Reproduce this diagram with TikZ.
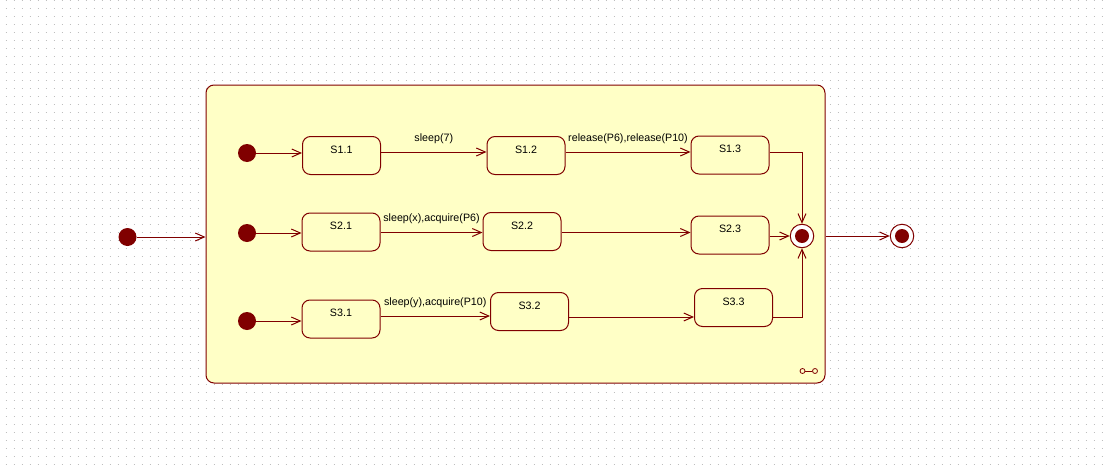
\documentclass[tikz,border=0pt]{standalone}
\usepackage{fontspec}
\setmainfont{Liberation Sans}
\usetikzlibrary{arrows.meta}
\definecolor{dred}{RGB}{128,0,0}
\definecolor{cyel}{RGB}{255,255,198}
\definecolor{dotc}{RGB}{190,190,190}
\begin{document}
\begin{tikzpicture}[x=1pt,y=-1pt,
  every node/.style={font=\fontsize{10.7}{12}\selectfont},
  dotgrid/.style={draw=dotc, line width=1pt, dash pattern=on 1pt off 7pt},
  comp/.style={draw=dred, line width=1pt, fill=cyel, rounded corners=8pt, minimum width=619pt, minimum height=298pt, inner sep=0pt},
  st/.style={draw=dred, line width=1pt, rounded corners=8pt, minimum width=78pt, minimum height=38pt, inner sep=0pt, text height=16.7pt, text depth=21.3pt},
  ini/.style={circle, fill=dred, minimum size=18pt, inner sep=0pt},
  fin/.style={circle, draw=dred, line width=1pt, fill=white, minimum size=23.5pt, inner sep=0pt},
  icn/.style={circle, draw=dred, line width=0.8pt, fill=cyel, minimum size=5pt, inner sep=0pt},
  tr/.style={draw=dred, line width=1pt, -{Straight Barb[length=9pt,width=8pt]}},
  tl/.style={anchor=south, yshift=8pt, inner sep=0pt}]
\useasboundingbox (0,0) rectangle (1108,471);
\fill[white] (0,0) rectangle (1108,471);
\foreach \k in {0,...,58} {
  \draw[dotgrid] (5.5,8*\k+0.5) -- (1108,8*\k+0.5);
}
% composite state
\node[comp] (cmp) at (515.5,234) {};
% row coordinates
\coordinate (r1) at (0,152);
\coordinate (r2) at (0,232.5);
\coordinate (r3b) at (0,316);
\coordinate (r3c) at (0,317);
% initial states
\node[ini] (i0) at (127.5,237) {};
\node[ini] (i1) at (247,153) {};
\node[ini] (i2) at (247,233) {};
\node[ini] (i3) at (247,321) {};
% states
\node[st] (s11) at (341.5,155.5) {S1.1};
\node[st] (s12) at (526,155.5) {S1.2};
\node[st] (s13) at (730,155) {S1.3};
\node[st] (s21) at (341,232) {S2.1};
\node[st] (s22) at (522,231.5) {S2.2};
\node[st] (s23) at (730,235) {S2.3};
\node[st] (s31) at (341,319) {S3.1};
\node[st] (s32) at (529.5,311.5) {S3.2};
\node[st] (s33) at (733.5,307.5) {S3.3};
% final states
\node[fin] (f1) at (802,236) {};
\fill[dred] (f1.center) circle (7);
\node[fin] (f2) at (902,236) {};
\fill[dred] (f2.center) circle (7);
% composite icon
\node[icn] (ic1) at (802.5,371) {};
\node[icn] (ic2) at (815,371) {};
\draw[dred, line width=0.8pt] (ic1) -- (ic2);
% transitions
\draw[tr] (i0) -- (i0 -| cmp.west);
\draw[tr] (i1) -- (i1 -| s11.west);
\draw[tr] (i2) -- (i2 -| s21.west);
\draw[tr] (i3) -- (i3 -| s31.west);
\draw[tr] (s11.east |- r1) -- node[tl] (t1) {sleep(7)} (s12.west |- r1);
\draw[tr] (s12.east |- r1) -- node[tl] (t2) {release(P6),release(P10)} (s13.west |- r1);
\draw[tr] (s13.east |- r1) -| (f1.north);
\draw[tr] (s21.east |- r2) -- node[tl] (t3) {sleep(x),acquire(P6)} (s22.west |- r2);
\draw[tr] (s22.east |- r2) -- (s23.west |- r2);
\draw[tr] (s23.east |- f1) -- (f1.west);
\draw[tr] (s31.east |- r3b) -- node[tl] (t4) {sleep(y),acquire(P10)} (s32.west |- r3b);
\draw[tr] (s32.east |- r3c) -- (s33.west |- r3c);
\draw[tr] (s33.east |- r3c) -| (f1.south);
\draw[tr] (f1 -| cmp.east) -- (f2.west);
\end{tikzpicture}
\end{document}
